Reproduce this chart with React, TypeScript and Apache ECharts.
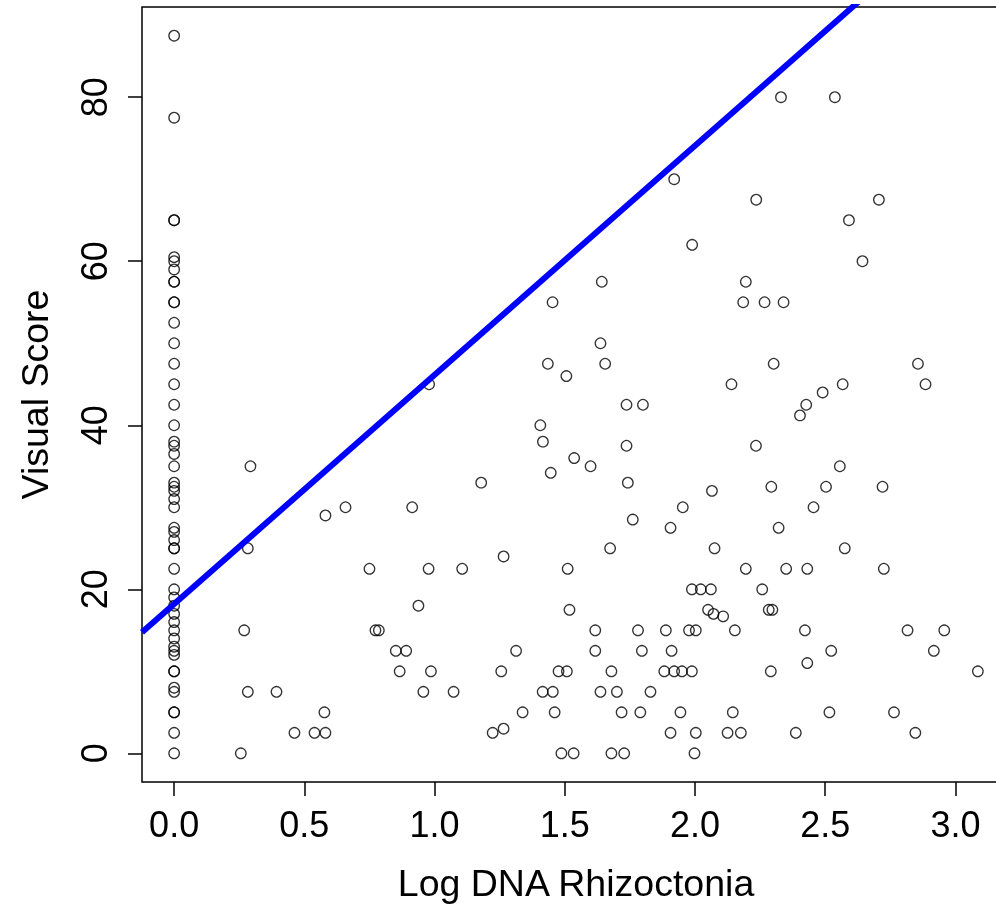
import React, { useEffect, useRef } from "react";
import * as echarts from "echarts";

// Visual scores of samples with Log DNA = 0
const zeroColumnScores = [
  87.5, 77.5, 65, 65, 60.5, 60, 59, 57.5, 57.5, 55, 55, 52.5, 50, 47.5, 45, 42.5, 40,
  38, 37.5, 36.5, 35, 33, 32.5, 32, 31, 30, 27.5, 27, 26, 25, 25, 22.5, 20, 19, 18, 17,
  16, 15, 14, 13, 12.5, 12, 10, 10, 8, 7.5, 5, 5, 2.5, 0,
];

// Remaining samples: Log DNA Rhizoctonia and Visual Score
const logDNA = [
  0.293, 0.283, 0.581, 0.658, 0.914, 0.75, 0.977, 1.106, 0.938, 0.269, 0.773, 0.786, 0.851, 0.891,
  0.866, 0.986, 0.283, 0.393, 0.957, 1.073, 0.577, 0.462, 0.539, 0.581, 0.256, 0.979,
  1.453, 1.637, 1.435, 1.655, 1.506, 2.14, 1.737, 1.8, 1.406, 1.416, 1.737, 1.536, 1.599, 1.446,
  1.742, 1.179, 2.065, 1.953, 1.761, 1.906, 1.674, 2.075,
  1.265, 1.511, 1.988, 2.022, 2.061, 1.518, 2.05, 2.071, 2.108, 1.617, 1.781, 1.888, 1.977, 2.003,
  1.313, 1.617, 1.796, 1.91, 1.256, 1.476, 1.508, 1.679, 1.882, 1.92, 1.95, 1.988, 1.415, 1.454,
  1.637, 1.7, 1.829, 1.338, 1.461, 1.718, 1.79, 1.944, 1.223, 1.265, 1.906, 2.003, 1.487, 1.534,
  1.679, 1.728, 1.998,
  1.92, 1.989, 1.642,
  2.33, 2.537, 2.235, 2.706, 2.591, 2.643, 2.195, 2.185, 2.267, 2.34,
  2.302, 2.856, 2.567, 2.885, 2.49, 2.427, 2.403, 2.234, 2.556, 2.293, 2.503, 2.72, 2.455, 2.321, 2.575,
  2.195, 2.35, 2.431, 2.725, 2.258, 2.283, 2.297, 2.153, 2.422, 2.816, 2.957, 2.523, 2.917, 2.431,
  2.291, 3.086, 2.145, 2.516, 2.764, 2.125, 2.176, 2.387, 2.846,
];
const visualScore = [
  35, 25, 29, 30, 30, 22.5, 22.5, 22.5, 18, 15, 15, 15, 12.5, 12.5,
  10, 10, 7.5, 7.5, 7.5, 7.5, 5, 2.5, 2.5, 2.5, 0, 45,
  55, 50, 47.5, 47.5, 46, 45, 42.5, 42.5, 40, 38, 37.5, 36, 35, 34.2,
  33, 33, 32, 30, 28.5, 27.5, 25, 25,
  24, 22.5, 20, 20, 20, 17.5, 17.5, 17, 16.7, 15, 15, 15, 15, 15,
  12.5, 12.5, 12.5, 12.5, 10, 10, 10, 10, 10, 10, 10, 10, 7.5, 7.5,
  7.5, 7.5, 7.5, 5, 5, 5, 5, 5, 2.5, 3, 2.5, 2.5, 0, 0,
  0, 0, 0,
  70, 62, 57.5,
  80, 80, 67.5, 67.5, 65, 60, 57.5, 55, 55, 55,
  47.5, 47.5, 45, 45, 44, 42.5, 41.2, 37.5, 35, 32.5, 32.5, 32.5, 30, 27.5, 25,
  22.5, 22.5, 22.5, 22.5, 20, 17.5, 17.5, 15, 15, 15, 15, 12.5, 12.5, 11,
  10, 10, 5, 5, 5, 2.5, 2.5, 2.5, 2.5,
];

const xTicks = [0, 0.5, 1, 1.5, 2, 2.5, 3];
const yTicks = [0, 20, 40, 60, 80];

// Fitted line: score = intercept + slope * logDNA
const fitIntercept = 18.2;
const fitSlope = 27.95;

const X_MIN = -0.1234;
const X_MAX = 3.2094;
const Y_MIN = -3.5;
const Y_MAX = 91;

export default function App() {
  const ref = useRef<HTMLDivElement>(null);
  useEffect(() => {
    const chart = echarts.init(ref.current!, null, { renderer: "svg" });
    const pts = [
      ...zeroColumnScores.map((y) => [0, y]),
      ...logDNA.map((x, i) => [x, visualScore[i]]),
    ];
    const fontFamily = "'Liberation Sans', Arial, sans-serif";
    const tickFont = 36;
    const nameFont = 37.5;
    chart.setOption({
      animation: false,
      grid: {
        left: 142,
        top: 7,
        width: 868,
        height: 775,
        show: true,
        borderColor: "#000",
        borderWidth: 1.5,
        backgroundColor: "transparent",
      },
      xAxis: {
        type: "value",
        min: X_MIN,
        max: X_MAX,
        name: "Log DNA Rhizoctonia",
        nameLocation: "middle",
        nameGap: 82,
        nameTextStyle: { fontFamily, fontSize: nameFont, color: "#000" },
        axisLine: { show: false, onZero: false },
        splitLine: { show: false },
        axisTick: {
          show: true,
          customValues: xTicks,
          length: 14,
          inside: false,
          lineStyle: { color: "#000", width: 1.5 },
        },
        axisLabel: {
          customValues: xTicks,
          formatter: (v: number) => v.toFixed(1),
          fontFamily,
          fontSize: tickFont,
          color: "#000",
          margin: 24,
        },
      },
      yAxis: {
        type: "value",
        min: Y_MIN,
        max: Y_MAX,
        name: "Visual Score",
        nameLocation: "middle",
        nameGap: 88,
        nameTextStyle: { fontFamily, fontSize: nameFont, color: "#000" },
        axisLine: { show: false, onZero: false },
        splitLine: { show: false },
        axisTick: {
          show: true,
          customValues: yTicks,
          length: 14,
          inside: false,
          lineStyle: { color: "#000", width: 1.5 },
        },
        axisLabel: {
          customValues: yTicks,
          rotate: 90,
          fontFamily,
          fontSize: tickFont,
          color: "#000",
          margin: 30,
        },
      },
      series: [
        {
          type: "scatter",
          data: pts,
          symbol: "circle",
          symbolSize: 10.5,
          itemStyle: { color: "rgba(0,0,0,0)", borderColor: "#000", borderWidth: 1.3 },
          emphasis: { disabled: true },
          z: 2,
        },
        {
          type: "line",
          data: [
            [X_MIN, fitIntercept + fitSlope * X_MIN],
            [X_MAX, fitIntercept + fitSlope * X_MAX],
          ],
          symbol: "none",
          lineStyle: { color: "#0000FF", width: 6 },
          clip: true,
          z: 3,
        },
      ],
    });
    return () => chart.dispose();
  }, []);
  return (
    <div
      ref={ref}
      style={{ position: "fixed", left: 0, top: 0, width: 1020, height: 907 }}
    />
  );
}
